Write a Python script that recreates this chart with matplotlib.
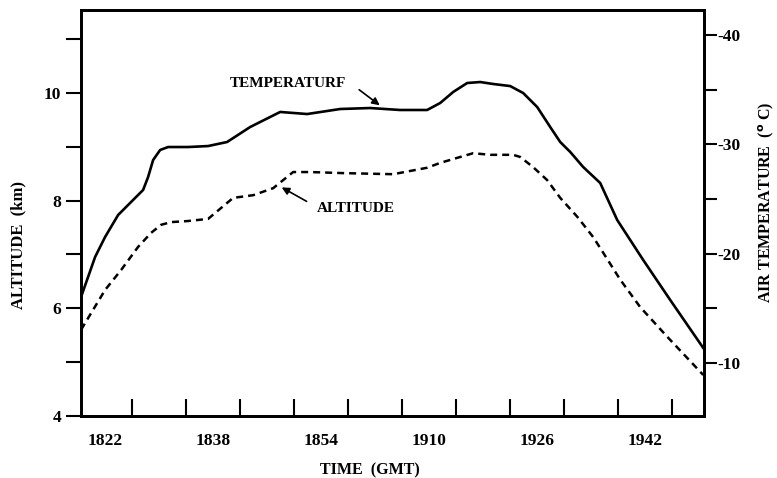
import numpy as np
import matplotlib
matplotlib.use('Agg')
import matplotlib.pyplot as plt

# 時刻は 18:00 からの経過分
temp_time = [18.44, 19.48, 20.52, 22.0, 23.93, 25.85, 27.63, 28.37, 29.11, 30.15, 31.33,
             34.30, 37.26, 40.07, 43.48, 47.93, 51.93, 56.81, 61.26, 65.70, 69.70, 71.63,
             73.56, 75.63, 77.56, 79.48, 82.0, 83.93, 86.0, 87.93, 89.41, 90.89, 92.81,
             95.33, 97.85, 101.70, 105.70, 110.59]
temp_vals = [-16.03, -17.86, -19.69, -21.52, -23.53, -24.72, -25.82, -27.01, -28.56, -29.48, -29.75,
             -29.75, -29.84, -30.21, -31.58, -32.96, -32.77, -33.23, -33.32, -33.14, -33.14, -33.78,
             -34.79, -35.61, -35.70, -35.52, -35.33, -34.69, -33.41, -31.58, -30.21, -29.30, -27.92,
             -26.46, -23.07, -19.41, -15.75, -11.36]

alt_time = [18.44, 19.93, 22.0, 24.37, 26.89, 28.81, 30.30, 31.78, 34.30, 37.26, 40.96,
            43.93, 46.89, 49.85, 52.37, 57.26, 64.67, 69.70, 71.63, 74.59, 76.52, 79.04,
            82.44, 83.48, 85.41, 87.48, 89.41, 91.93, 94.30, 95.78, 98.30, 101.26, 105.26, 110.59]
alt_vals = [5.60, 5.91, 6.34, 6.71, 7.14, 7.40, 7.55, 7.60, 7.62, 7.66, 8.05,
            8.10, 8.23, 8.53, 8.53, 8.51, 8.49, 8.61, 8.70, 8.81, 8.88, 8.85,
            8.85, 8.81, 8.62, 8.38, 8.05, 7.70, 7.32, 7.03, 6.53, 6.02, 5.47, 4.76]

xlabel_pos = [22, 38, 54, 70, 86, 102]
xlabels = ['1822', '1838', '1854', '1910', '1926', '1942']
xminor = [26, 34, 42, 50, 58, 66, 74, 82, 90, 98, 106]

plt.rcParams['font.family'] = ['Liberation Serif', 'DejaVu Serif']
plt.rcParams['font.weight'] = 'bold'
plt.rcParams['axes.labelweight'] = 'bold'
plt.rcParams['mathtext.default'] = 'bf'

fig = plt.figure(figsize=(7.77, 4.78), dpi=100)
ax = fig.add_axes([0.104, 0.130, 0.802, 0.849])
ax2 = ax.twinx()

ax.plot(alt_time, alt_vals, color='black', lw=1.8, linestyle=(0, (2.8, 2.0)),
        solid_joinstyle='round')
ax2.plot(temp_time, temp_vals, color='black', lw=1.9, solid_joinstyle='round')

ax.set_xlim(18.4, 110.7)
ax.set_ylim(4, 11.54)
ax2.set_ylim(-5.14, -42.29)

ax.set_yticks([4, 6, 8, 10])
ax.set_yticks([5, 7, 9, 11], minor=True)
ax.tick_params(axis='y', which='both', direction='out', length=11, width=1.5, labelsize=12.5, pad=3)

ax2.set_yticks([-40, -30, -20, -10])
ax2.set_yticks([-35, -25, -15], minor=True)
ax2.set_yticklabels(['-40', '-30', '-20', '-10'])
ax2.tick_params(axis='y', which='both', direction='out', length=9, width=1.5, labelsize=12.5, pad=1)

ax.set_xticks(xlabel_pos)
ax.set_xticklabels(xlabels)
ax.set_xticks(xminor, minor=True)
ax.tick_params(axis='x', which='major', length=0, labelsize=12.5, pad=12)
ax.tick_params(axis='x', which='minor', direction='in', length=12, width=1.5)

for a in (ax, ax2):
    for s in a.spines.values():
        s.set_linewidth(2)

ax.set_xlabel('TIME  (GMT)', fontsize=11.5, fontweight='bold')
ax.xaxis.set_label_coords(0.464, -0.115)
ax.set_ylabel('ALTITUDE  (km)', fontsize=12, fontweight='bold')
ax.yaxis.set_label_coords(-0.088, 0.42)
ax2.set_ylabel(r'AIR TEMPERATURE  ($^{\mathrm{o}}$ C)', fontsize=11.5, fontweight='bold')
ax2.yaxis.set_label_coords(1.083, 0.525)

# 注記
ax.text(49.1, 10.17, 'TEMPERATURF', fontsize=11, ha='center', va='center', fontweight='bold')
ax.annotate('', xy=(63.0, 9.74), xytext=(59.3, 10.09),
            arrowprops=dict(arrowstyle='-|>', color='black', lw=1.2, mutation_scale=11))
ax.text(59.2, 7.86, 'ALTITUDE', fontsize=11, ha='center', va='center', fontweight='bold')
ax.annotate('', xy=(47.8, 8.27), xytext=(52.2, 7.96),
            arrowprops=dict(arrowstyle='-|>', color='black', lw=1.2, mutation_scale=11))

plt.savefig('out.png', dpi=100)
